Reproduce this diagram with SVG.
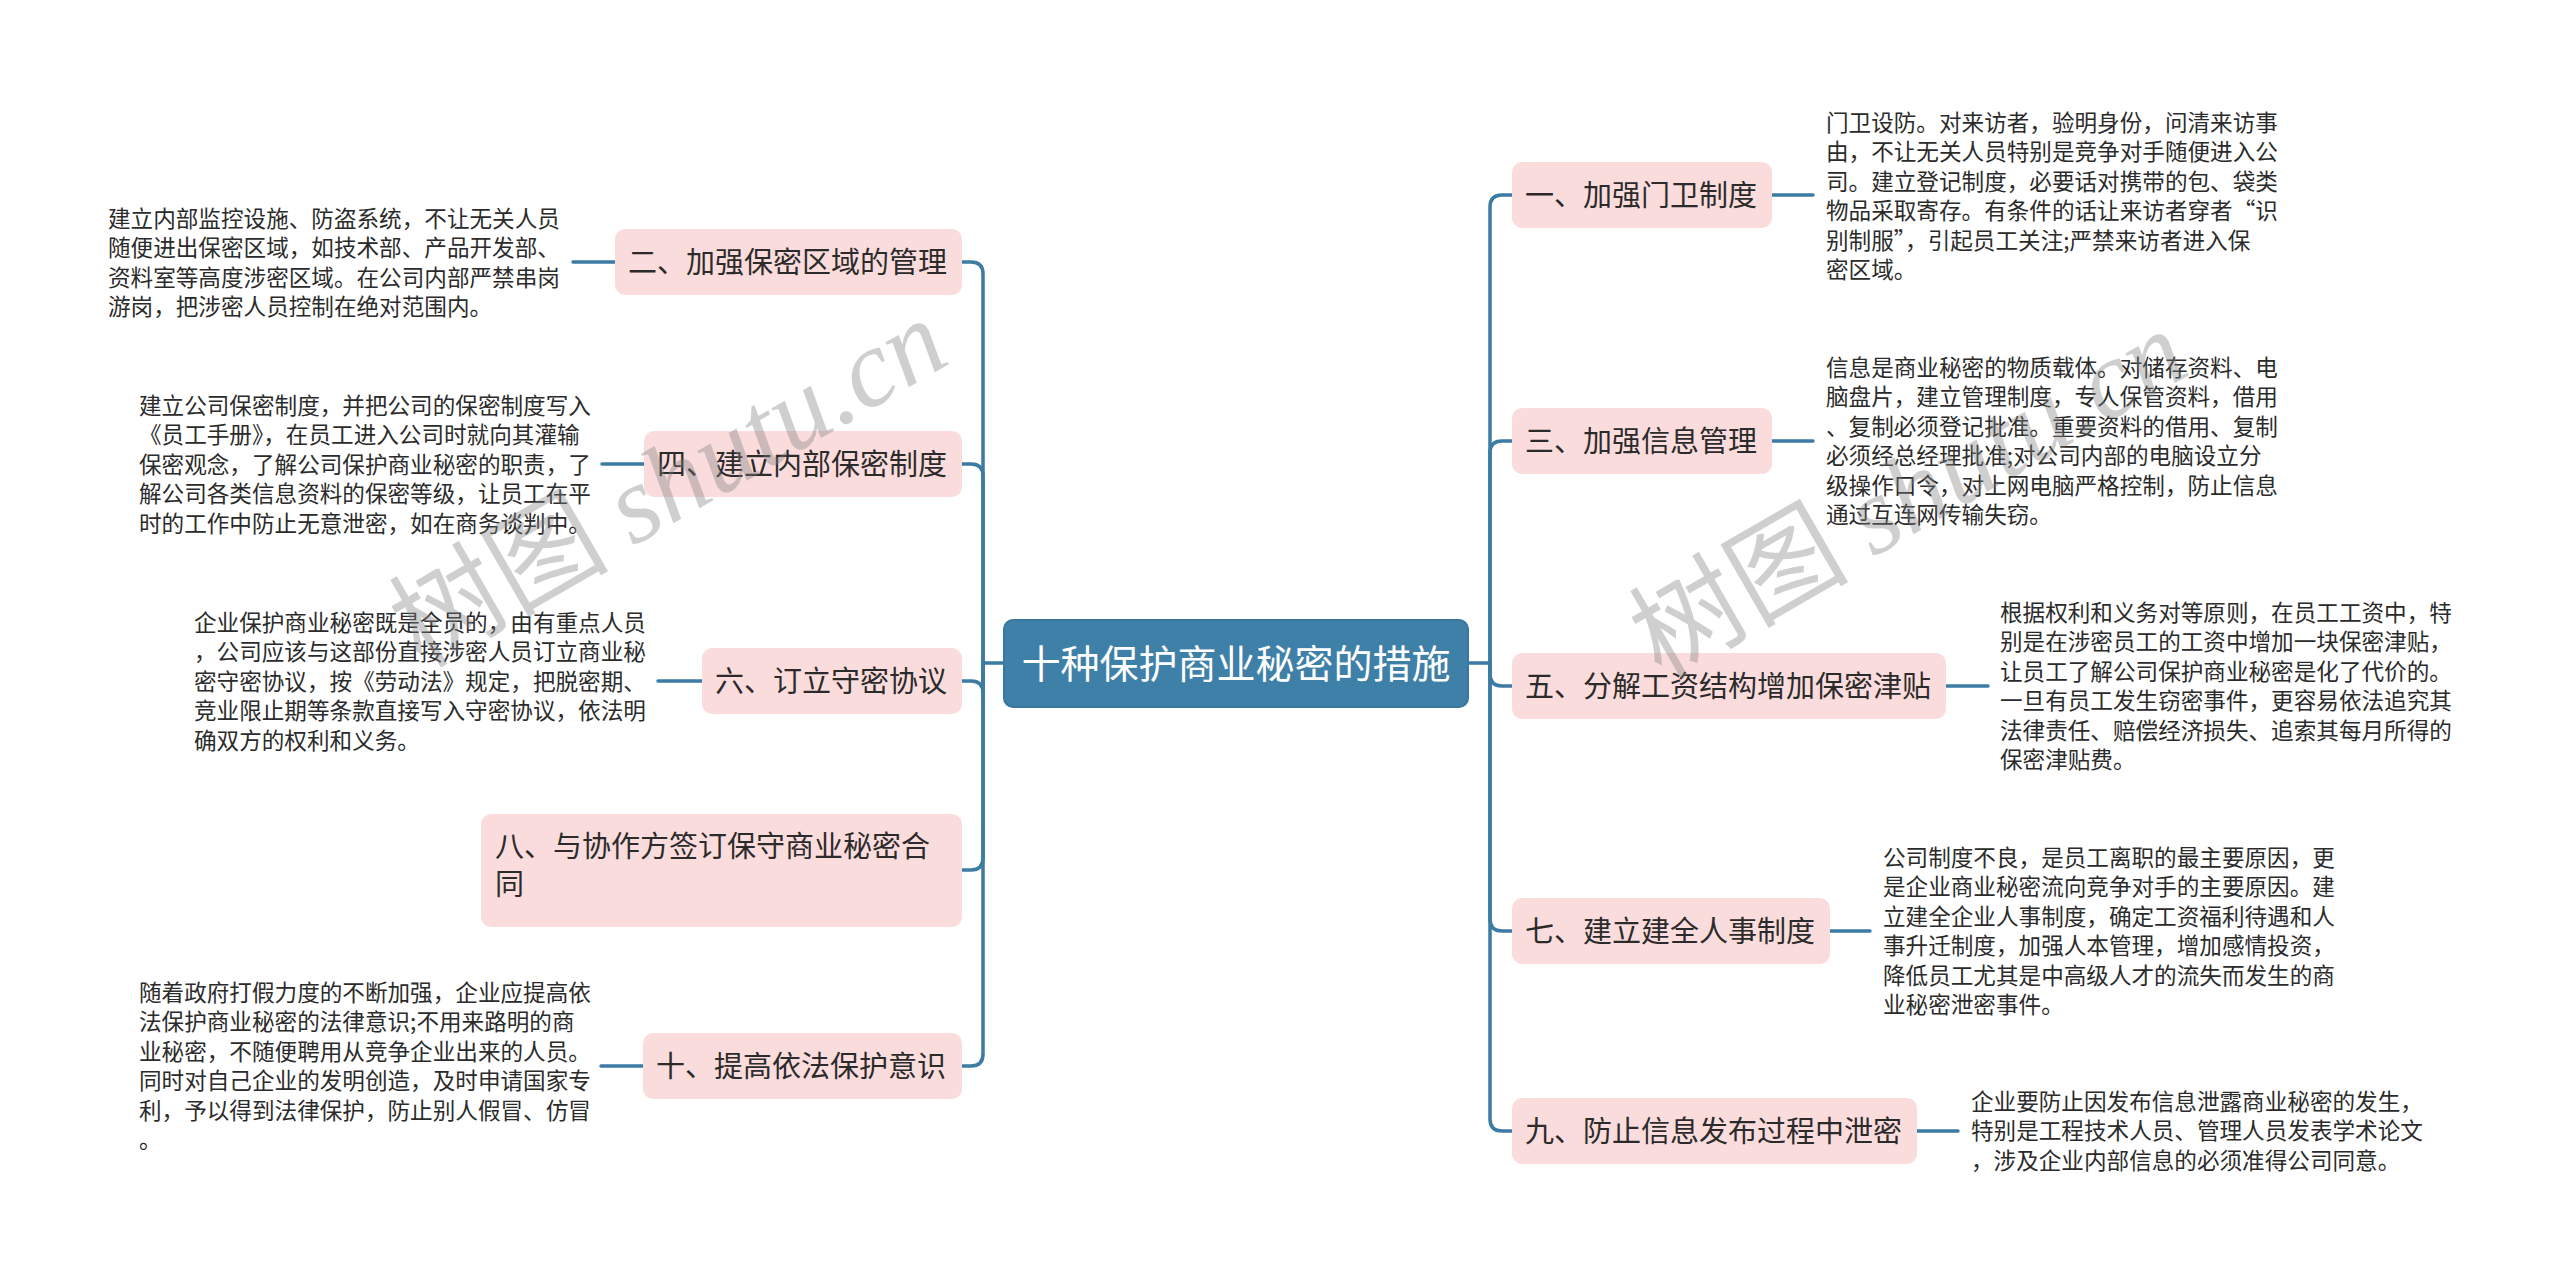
<svg xmlns="http://www.w3.org/2000/svg" width="2560" height="1285" viewBox="0 0 2560 1285">
<style>
.bg{fill:#ffffff}
.node rect{fill:#fbdcdc}
.nt{font-family:"Noto Sans CJK SC","Noto Sans",sans-serif;font-size:29px;fill:#2b2b2b}
.para{font-family:"Noto Sans CJK SC","Noto Sans",sans-serif;font-size:22.6px;fill:#2b2b2b}
.ct{font-family:"Noto Sans CJK SC","Noto Sans",sans-serif;font-size:39px;fill:#ffffff}
.ln{fill:none;stroke:#3c7ba3;stroke-width:3.5;stroke-linecap:round}
.wm{font-family:"Noto Sans CJK SC","Noto Sans",sans-serif;font-size:110px;fill:#808080;fill-opacity:0.38}
.wm .lat{font-family:"Liberation Serif",serif;font-style:italic}
</style>
<rect class="bg" x="0" y="0" width="2560" height="1285"/>

<g id="connectors">
  <path class="ln" d="M1468 663 H1490 V207 Q1490 195 1502 195 H1512"/>
  <path class="ln" d="M1490 663 V453 Q1490 441 1502 441 H1512"/>
  <path class="ln" d="M1490 663 V674 Q1490 686 1502 686 H1512"/>
  <path class="ln" d="M1490 663 V919 Q1490 931 1502 931 H1512"/>
  <path class="ln" d="M1490 663 V1119 Q1490 1131 1502 1131 H1512"/>
  <path class="ln" d="M1004 663 H983 V274 Q983 262 971 262 H962"/>
  <path class="ln" d="M983 663 V476 Q983 464 971 464 H962"/>
  <path class="ln" d="M983 663 V693 Q983 681 971 681 H962"/>
  <path class="ln" d="M983 663 V858 Q983 870 971 870 H962"/>
  <path class="ln" d="M983 663 V1054 Q983 1066 971 1066 H962"/>
  <path class="ln" d="M1772 195 H1813"/>
  <path class="ln" d="M1772 441 H1813"/>
  <path class="ln" d="M1946 686 H1988"/>
  <path class="ln" d="M1830 931 H1870"/>
  <path class="ln" d="M1917 1131 H1958"/>
  <path class="ln" d="M573 262 H615"/>
  <path class="ln" d="M602 464 H644"/>
  <path class="ln" d="M658 681 H702"/>
  <path class="ln" d="M601 1066 H643"/>
</g>

<g id="center">
  <rect x="1004" y="620" width="464" height="87" rx="9" fill="#3f80a8" stroke="#3a77a0" stroke-width="2"/>
  <text class="ct" x="1236" y="678" text-anchor="middle">十种保护商业秘密的措施</text>
</g>

<g id="n1" class="node">
  <rect x="1512" y="162" width="260" height="66" rx="10"/>
  <text class="nt" x="1525" y="206">一、加强门卫制度</text>
</g>
<g id="d1">
  <text class="para" x="1826" y="131">
    <tspan x="1826">门卫设防。对来访者，验明身份，问清来访事</tspan>
    <tspan x="1826" dy="29.4">由，不让无关人员特别是竞争对手随便进入公</tspan>
    <tspan x="1826" dy="29.4">司。建立登记制度，必要话对携带的包、袋类</tspan>
    <tspan x="1826" dy="29.4">物品采取寄存。有条件的话让来访者穿者“识</tspan>
    <tspan x="1826" dy="29.4">别制服”，引起员工关注;严禁来访者进入保</tspan>
    <tspan x="1826" dy="29.4">密区域。</tspan>
  </text>
</g>

<g id="n3" class="node">
  <rect x="1512" y="408" width="260" height="66" rx="10"/>
  <text class="nt" x="1525" y="452">三、加强信息管理</text>
</g>
<g id="d3">
  <text class="para" x="1826" y="376">
    <tspan x="1826">信息是商业秘密的物质载体。对储存资料、电</tspan>
    <tspan x="1826" dy="29.4">脑盘片，建立管理制度，专人保管资料，借用</tspan>
    <tspan x="1826" dy="29.4">、复制必须登记批准。重要资料的借用、复制</tspan>
    <tspan x="1826" dy="29.4">必须经总经理批准;对公司内部的电脑设立分</tspan>
    <tspan x="1826" dy="29.4">级操作口令，对上网电脑严格控制，防止信息</tspan>
    <tspan x="1826" dy="29.4">通过互连网传输失窃。</tspan>
  </text>
</g>

<g id="n5" class="node">
  <rect x="1512" y="653" width="434" height="66" rx="10"/>
  <text class="nt" x="1525" y="697">五、分解工资结构增加保密津贴</text>
</g>
<g id="d5">
  <text class="para" x="2000" y="621">
    <tspan x="2000">根据权利和义务对等原则，在员工工资中，特</tspan>
    <tspan x="2000" dy="29.4">别是在涉密员工的工资中增加一块保密津贴，</tspan>
    <tspan x="2000" dy="29.4">让员工了解公司保护商业秘密是化了代价的。</tspan>
    <tspan x="2000" dy="29.4">一旦有员工发生窃密事件，更容易依法追究其</tspan>
    <tspan x="2000" dy="29.4">法律责任、赔偿经济损失、追索其每月所得的</tspan>
    <tspan x="2000" dy="29.4">保密津贴费。</tspan>
  </text>
</g>

<g id="n7" class="node">
  <rect x="1512" y="898" width="318" height="66" rx="10"/>
  <text class="nt" x="1525" y="942">七、建立建全人事制度</text>
</g>
<g id="d7">
  <text class="para" x="1883" y="866">
    <tspan x="1883">公司制度不良，是员工离职的最主要原因，更</tspan>
    <tspan x="1883" dy="29.4">是企业商业秘密流向竞争对手的主要原因。建</tspan>
    <tspan x="1883" dy="29.4">立建全企业人事制度，确定工资福利待遇和人</tspan>
    <tspan x="1883" dy="29.4">事升迁制度，加强人本管理，增加感情投资，</tspan>
    <tspan x="1883" dy="29.4">降低员工尤其是中高级人才的流失而发生的商</tspan>
    <tspan x="1883" dy="29.4">业秘密泄密事件。</tspan>
  </text>
</g>

<g id="n9" class="node">
  <rect x="1512" y="1098" width="405" height="66" rx="10"/>
  <text class="nt" x="1525" y="1142">九、防止信息发布过程中泄密</text>
</g>
<g id="d9">
  <text class="para" x="1971" y="1110">
    <tspan x="1971">企业要防止因发布信息泄露商业秘密的发生，</tspan>
    <tspan x="1971" dy="29.4">特别是工程技术人员、管理人员发表学术论文</tspan>
    <tspan x="1971" dy="29.4">，涉及企业内部信息的必须准得公司同意。</tspan>
  </text>
</g>

<g id="n2" class="node">
  <rect x="615" y="229" width="347" height="66" rx="10"/>
  <text class="nt" x="628" y="273">二、加强保密区域的管理</text>
</g>
<g id="d2">
  <text class="para" x="108" y="227">
    <tspan x="108">建立内部监控设施、防盗系统，不让无关人员</tspan>
    <tspan x="108" dy="29.4">随便进出保密区域，如技术部、产品开发部、</tspan>
    <tspan x="108" dy="29.4">资料室等高度涉密区域。在公司内部严禁串岗</tspan>
    <tspan x="108" dy="29.4">游岗，把涉密人员控制在绝对范围内。</tspan>
  </text>
</g>

<g id="n4" class="node">
  <rect x="644" y="431" width="318" height="66" rx="10"/>
  <text class="nt" x="657" y="475">四、建立内部保密制度</text>
</g>
<g id="d4">
  <text class="para" x="139" y="414">
    <tspan x="139">建立公司保密制度，并把公司的保密制度写入</tspan>
    <tspan x="139" dy="29.4">《员工手册》，在员工进入公司时就向其灌输</tspan>
    <tspan x="139" dy="29.4">保密观念，了解公司保护商业秘密的职责，了</tspan>
    <tspan x="139" dy="29.4">解公司各类信息资料的保密等级，让员工在平</tspan>
    <tspan x="139" dy="29.4">时的工作中防止无意泄密，如在商务谈判中。</tspan>
  </text>
</g>

<g id="n6" class="node">
  <rect x="702" y="648" width="260" height="66" rx="10"/>
  <text class="nt" x="715" y="692">六、订立守密协议</text>
</g>
<g id="d6">
  <text class="para" x="194" y="631">
    <tspan x="194">企业保护商业秘密既是全员的，由有重点人员</tspan>
    <tspan x="194" dy="29.4">，公司应该与这部份直接涉密人员订立商业秘</tspan>
    <tspan x="194" dy="29.4">密守密协议，按《劳动法》规定，把脱密期、</tspan>
    <tspan x="194" dy="29.4">竞业限止期等条款直接写入守密协议，依法明</tspan>
    <tspan x="194" dy="29.4">确双方的权利和义务。</tspan>
  </text>
</g>

<g id="n8" class="node">
  <rect x="481" y="814" width="481" height="113" rx="10"/>
  <text class="nt" x="495" y="857">
    <tspan x="495">八、与协作方签订保守商业秘密合</tspan>
    <tspan x="495" dy="38">同</tspan>
  </text>
</g>

<g id="n10" class="node">
  <rect x="643" y="1033" width="319" height="66" rx="10"/>
  <text class="nt" x="656" y="1077">十、提高依法保护意识</text>
</g>
<g id="d10">
  <text class="para" x="139" y="1001">
    <tspan x="139">随着政府打假力度的不断加强，企业应提高依</tspan>
    <tspan x="139" dy="29.4">法保护商业秘密的法律意识;不用来路明的商</tspan>
    <tspan x="139" dy="29.4">业秘密，不随便聘用从竞争企业出来的人员。</tspan>
    <tspan x="139" dy="29.4">同时对自己企业的发明创造，及时申请国家专</tspan>
    <tspan x="139" dy="29.4">利，予以得到法律保护，防止别人假冒、仿冒</tspan>
    <tspan x="139" dy="29.4">。</tspan>
  </text>
</g>

<g id="watermarks">
  <text class="wm" transform="translate(421 669) rotate(-30)">树图 <tspan class="lat">shutu.cn</tspan></text>
  <text class="wm" transform="translate(1661 680) rotate(-30)">树图 <tspan class="lat">shutu.cn</tspan></text>
</g>
</svg>
